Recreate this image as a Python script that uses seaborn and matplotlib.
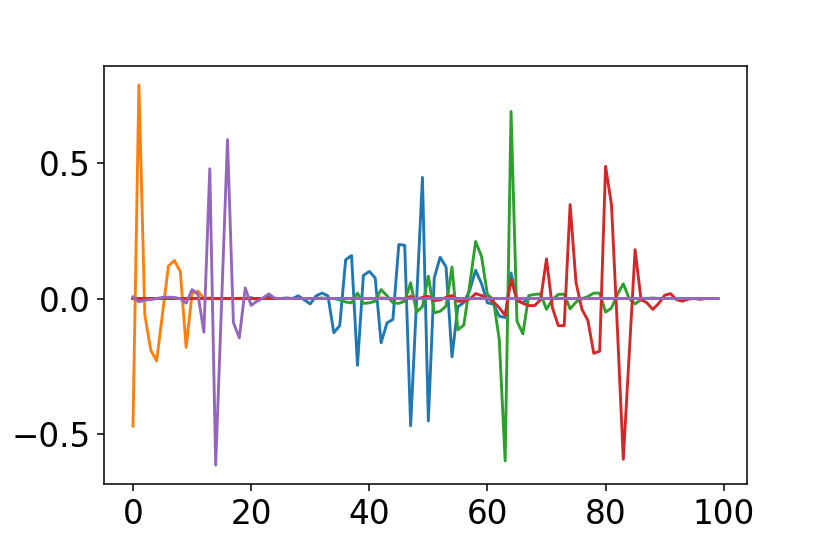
import numpy as np
import pandas as pd
import seaborn as sns
import matplotlib
matplotlib.use("Agg")
import matplotlib.pyplot as plt
from matplotlib.ticker import MultipleLocator

# values, one entry per step 0..99
blue = [0.0, 0.0, 0.0, 0.0, 0.0, 0.0, 0.0, 0.0, 0.0, 0.0,
        0.0, 0.0, 0.0, 0.0, 0.0, 0.0, 0.0, 0.0, 0.0, 0.0,
        0.003, -0.003, 0.0, 0.005, 0.0, 0.0, 0.002, 0.0, 0.01, -0.005,
        -0.02, 0.01, 0.02, 0.01, -0.126, -0.10, 0.143, 0.158, -0.246, 0.085,
        0.10, 0.076, -0.163, -0.09, -0.077, 0.199, 0.196, -0.469, -0.01, 0.446,
        -0.451, 0.076, 0.152, 0.116, -0.215, -0.03, -0.015, 0.03, 0.104, 0.055,
        -0.016, -0.02, -0.065, -0.07, 0.094, -0.01, -0.015, 0.0, 0.0, 0.0,
        0.0, 0.0, 0.0, 0.0, 0.0, 0.0, 0.0, 0.0, 0.0, 0.0,
        0.0, 0.0, 0.0, 0.0, 0.0, 0.0, 0.0, 0.0, 0.0, 0.0,
        0.0, 0.0, 0.0, 0.0, 0.0, 0.0, 0.0, 0.0, 0.0, 0.0]

orange = [-0.47, 0.787, -0.06, -0.19, -0.23, -0.055, 0.12, 0.14, 0.10, -0.18,
          0.02, 0.027, 0.0, 0.002, -0.001, 0.001, 0.0, 0.0, 0.001, 0.0,
          0.0, 0.0, 0.0, 0.0, 0.0, 0.0, 0.0, 0.0, 0.0, 0.0,
          0.0, 0.0, 0.0, 0.0, 0.0, 0.0, 0.0, 0.0, 0.0, 0.0,
          0.0, 0.0, 0.0, 0.0, 0.0, 0.0, 0.0, 0.0, 0.0, 0.0,
          0.0, 0.0, 0.0, 0.0, 0.0, 0.0, 0.0, 0.0, 0.0, 0.0,
          0.0, 0.0, 0.0, 0.0, 0.0, 0.0, 0.0, 0.0, 0.0, 0.0,
          0.0, 0.0, 0.0, 0.0, 0.0, 0.0, 0.0, 0.0, 0.0, 0.0,
          0.0, 0.0, 0.0, 0.0, 0.0, 0.0, 0.0, 0.0, 0.0, 0.0,
          0.0, 0.0, 0.0, 0.0, 0.0, 0.0, 0.0, 0.0, 0.0, 0.0]

green = [0.0, 0.0, 0.0, 0.0, 0.0, 0.0, 0.0, 0.0, 0.0, 0.0,
         0.0, 0.0, 0.0, 0.0, 0.0, 0.0, 0.0, 0.0, 0.0, 0.0,
         0.0, 0.0, 0.0, 0.0, 0.0, 0.0, 0.0, 0.0, 0.0, 0.0,
         0.0, 0.0, 0.002, 0.0, 0.0, -0.005, -0.013, -0.016, 0.02, -0.018,
         -0.016, -0.01, 0.033, 0.01, -0.016, -0.018, -0.01, 0.058, -0.05, -0.03,
         0.082, -0.053, -0.047, -0.028, 0.116, -0.115, -0.098, 0.05, 0.21, 0.155,
         0.015, -0.004, -0.15, -0.598, 0.689, -0.083, -0.13, 0.011, 0.015, 0.017,
         -0.04, -0.004, 0.015, 0.016, -0.038, -0.013, 0.0, 0.007, 0.02, 0.02,
         -0.05, -0.035, 0.015, 0.054, 0.0, -0.02, -0.004, 0.0, 0.002, 0.0,
         0.0, 0.0, 0.0, 0.0, 0.0, 0.0, 0.0, 0.0, 0.0, 0.0]

red = [0.0, 0.0, 0.0, 0.0, 0.0, 0.0, 0.0, 0.0, 0.0, 0.0,
       0.0, 0.0, 0.0, 0.0, 0.0, 0.0, 0.0, 0.0, 0.0, 0.0,
       0.0, 0.0, 0.0, 0.0, 0.0, 0.0, 0.0, 0.0, 0.0, 0.0,
       0.0, 0.0, 0.0, 0.0, 0.0, 0.0, 0.0, 0.0, 0.0, 0.0,
       0.0, 0.0, 0.002, 0.0, -0.002, 0.0, -0.003, 0.008, -0.002, 0.004,
       0.008, -0.008, -0.005, 0.004, 0.011, -0.01, -0.01, -0.002, 0.018, 0.011,
       0.002, -0.012, -0.034, -0.062, 0.07, -0.004, -0.018, -0.026, -0.026, -0.004,
       0.146, -0.034, -0.1, -0.1, 0.346, 0.058, -0.04, -0.08, -0.202, -0.194,
       0.487, 0.346, -0.11, -0.592, -0.206, 0.18, -0.004, -0.016, -0.04, -0.018,
       0.012, 0.018, -0.004, -0.01, -0.002, 0.0, -0.003, 0.0, 0.0, 0.0]

purple = [0.006, -0.012, -0.006, -0.004, 0.0, 0.004, 0.005, 0.004, -0.001, -0.017,
          0.033, 0.015, -0.124, 0.478, -0.614, -0.015, 0.585, -0.089, -0.145, 0.039,
          -0.025, -0.01, 0.002, 0.017, 0.001, 0.0, 0.0, 0.0, 0.0, 0.0,
          0.0, 0.0, 0.0, 0.0, 0.0, 0.0, 0.0, 0.0, 0.0, 0.0,
          0.0, 0.0, 0.0, 0.0, 0.0, 0.0, 0.0, 0.0, 0.0, 0.0,
          0.0, 0.0, 0.0, 0.0, 0.0, 0.0, 0.0, 0.0, 0.0, 0.0,
          0.0, 0.0, 0.0, 0.0, 0.0, 0.0, 0.0, 0.0, 0.0, 0.0,
          0.0, 0.0, 0.0, 0.0, 0.0, 0.0, 0.0, 0.0, 0.0, 0.0,
          0.0, 0.0, 0.0, 0.0, 0.0, 0.0, 0.0, 0.0, 0.0, 0.0,
          0.0, 0.0, 0.0, 0.0, 0.0, 0.0, 0.0, 0.0, 0.0, 0.0]

series_names = ["blue", "orange", "green", "red", "purple"]
series_vals = [blue, orange, green, red, purple]

frames = []
for name, vals in zip(series_names, series_vals):
    frames.append(pd.DataFrame({"step": np.arange(len(vals)), "value": vals, "series": name}))
df = pd.concat(frames, ignore_index=True)

fig, ax = plt.subplots(figsize=(6.0, 4.005), dpi=138.34)
fig.subplots_adjust(left=0.125, right=0.9, top=0.881, bottom=0.126)

sns.lineplot(data=df, x="step", y="value", hue="series", hue_order=series_names,
             palette=sns.color_palette("tab10", 5), estimator=None,
             linewidth=1.5, legend=False, ax=ax)

ax.set(xlabel="", ylabel="")
ax.yaxis.set_major_locator(MultipleLocator(0.5))
ax.tick_params(labelsize=17)

plt.savefig("out.png", dpi=138.34)
